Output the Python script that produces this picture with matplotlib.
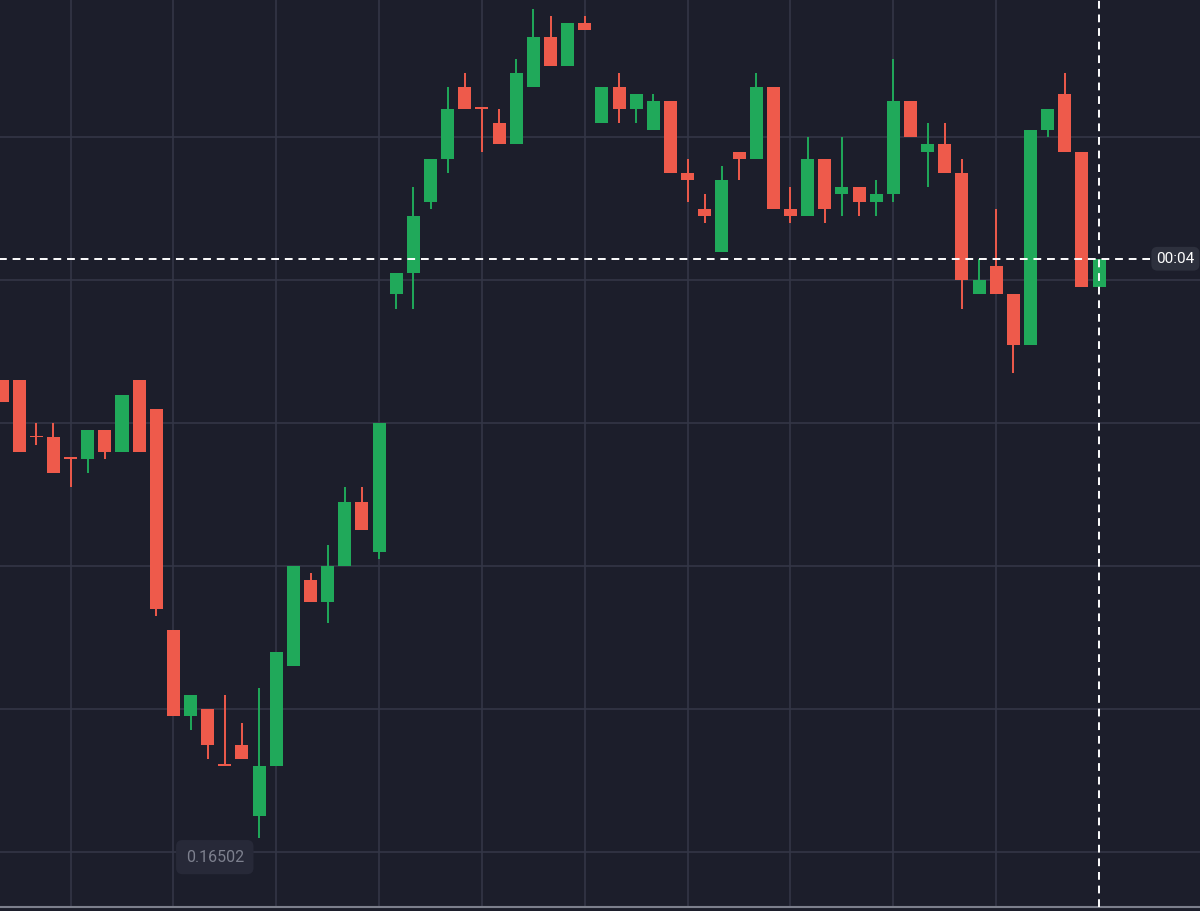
import matplotlib
matplotlib.use('Agg')
from matplotlib import pyplot as plt

# OHLC prices, one entry per candle (tick size 0.00001)
opens = [0.16566, 0.16566, 0.16558, 0.16558, 0.16555, 0.16555, 0.16559, 0.16556, 0.16566, 0.16562,
         0.16531, 0.16519, 0.16520, 0.16512, 0.16515, 0.16505, 0.16512, 0.16526, 0.16538, 0.16535,
         0.16540, 0.16549, 0.16542, 0.16578, 0.16581, 0.16591, 0.16597, 0.16607, 0.16604, 0.16602,
         0.16599, 0.16607, 0.16614, 0.16610, 0.16616, 0.16602, 0.16607, 0.16604, 0.16601, 0.16605,
         0.16595, 0.16590, 0.16584, 0.16598, 0.16597, 0.16607, 0.16590, 0.16589, 0.16597, 0.16592,
         0.16593, 0.16591, 0.16592, 0.16605, 0.16598, 0.16599, 0.16595, 0.16578, 0.16582, 0.16578,
         0.16571, 0.16601, 0.16606, 0.16598, 0.16579]
highs = [0.16566, 0.16566, 0.16560, 0.16560, 0.16555, 0.16559, 0.16559, 0.16564, 0.16566, 0.16562,
         0.16531, 0.16522, 0.16520, 0.16522, 0.16518, 0.16523, 0.16528, 0.16540, 0.16539, 0.16543,
         0.16551, 0.16551, 0.16560, 0.16581, 0.16593, 0.16597, 0.16607, 0.16609, 0.16604, 0.16604,
         0.16611, 0.16618, 0.16617, 0.16616, 0.16617, 0.16607, 0.16609, 0.16606, 0.16606, 0.16605,
         0.16597, 0.16592, 0.16596, 0.16598, 0.16609, 0.16607, 0.16593, 0.16600, 0.16597, 0.16600,
         0.16593, 0.16594, 0.16611, 0.16605, 0.16602, 0.16602, 0.16597, 0.16583, 0.16590, 0.16578,
         0.16601, 0.16604, 0.16609, 0.16598, 0.16583]
lows = [0.16563, 0.16556, 0.16557, 0.16553, 0.16551, 0.16553, 0.16555, 0.16556, 0.16556, 0.16533,
        0.16519, 0.16517, 0.16513, 0.16512, 0.16513, 0.16502, 0.16512, 0.16526, 0.16535, 0.16532,
        0.16540, 0.16545, 0.16541, 0.16576, 0.16576, 0.16590, 0.16595, 0.16604, 0.16598, 0.16599,
        0.16599, 0.16607, 0.16610, 0.16610, 0.16615, 0.16602, 0.16602, 0.16602, 0.16601, 0.16595,
        0.16591, 0.16588, 0.16584, 0.16594, 0.16597, 0.16590, 0.16588, 0.16589, 0.16588, 0.16589,
        0.16589, 0.16589, 0.16591, 0.16600, 0.16593, 0.16595, 0.16576, 0.16578, 0.16578, 0.16567,
        0.16571, 0.16600, 0.16598, 0.16579, 0.16579]
closes = [0.16563, 0.16556, 0.16558, 0.16553, 0.16555, 0.16559, 0.16556, 0.16564, 0.16556, 0.16534,
          0.16519, 0.16522, 0.16515, 0.16512, 0.16513, 0.16512, 0.16528, 0.16540, 0.16535, 0.16540,
          0.16549, 0.16545, 0.16560, 0.16581, 0.16589, 0.16597, 0.16604, 0.16604, 0.16604, 0.16599,
          0.16609, 0.16614, 0.16610, 0.16616, 0.16615, 0.16607, 0.16604, 0.16606, 0.16605, 0.16595,
          0.16594, 0.16589, 0.16594, 0.16597, 0.16607, 0.16590, 0.16589, 0.16597, 0.16590, 0.16593,
          0.16591, 0.16592, 0.16605, 0.16600, 0.16599, 0.16595, 0.16580, 0.16580, 0.16578, 0.16571,
          0.16601, 0.16604, 0.16598, 0.16579, 0.16583]

price_gridlines = [0.16500, 0.16520, 0.16540, 0.16560, 0.16580, 0.16600]
time_gridlines = [4, 10, 16, 22, 28, 34, 40, 46, 52, 58]
countdown = '00:04'
low_label = '0.16502'

bg = '#1c1e2b'
green = '#20a95a'
red = '#ee5a4b'
gridc = '#333646'

fig = plt.figure(figsize=(12, 9.11), dpi=100)
fig.patch.set_facecolor(bg)
ax = fig.add_axes([0, 4/911, 1, 907/911])
ax.set_facecolor(bg)

for x in time_gridlines:
    ax.axvline(x, color=gridc, lw=1.2, zorder=0)
for y in price_gridlines:
    ax.axhline(y, color=gridc, lw=1.2, zorder=0)

for i in range(len(opens)):
    o, h, l, c = opens[i], highs[i], lows[i], closes[i]
    col = green if c > o else red
    ax.vlines(i, l, h, color=col, lw=1.4, zorder=2)
    height = max(abs(c - o), 0.0000025)
    ax.bar(i, height, bottom=min(o, c), width=0.76, color=col, linewidth=0, zorder=3)

last = len(closes) - 1
ax.axvline(last, color='white', lw=1.4, ls=(0, (4, 3)), zorder=4)
ax.hlines(closes[-1], -1, 67.0, color='white', lw=1.4, linestyles=[(0, (4, 3))], zorder=4)

ax.text(0.9795, (closes[-1] - 0.164923) / (0.166192 - 0.164923), countdown,
        transform=ax.transAxes, ha='center', va='center', color='white',
        fontsize=11, family='Roboto', zorder=6,
        bbox=dict(boxstyle='round,pad=0.32,rounding_size=0.4', fc='#2d303d', ec='none'))
ax.text(0.179, 0.055, low_label, transform=ax.transAxes, ha='center', va='center',
        color='#7d808e', fontsize=11.5, family='Roboto', zorder=6,
        bbox=dict(boxstyle='round,pad=0.6,rounding_size=0.4', fc='#272938', ec='none'))

ax.set_xlim(-0.117, 69.89)
ax.set_ylim(0.164923, 0.166192)
ax.set_xticks([])
ax.set_yticks([])
for s in ['top', 'left', 'right']:
    ax.spines[s].set_visible(False)
ax.spines['bottom'].set_color('#7c7f8c')
ax.spines['bottom'].set_linewidth(1.5)

plt.savefig('out.png', dpi=100, facecolor=bg)
